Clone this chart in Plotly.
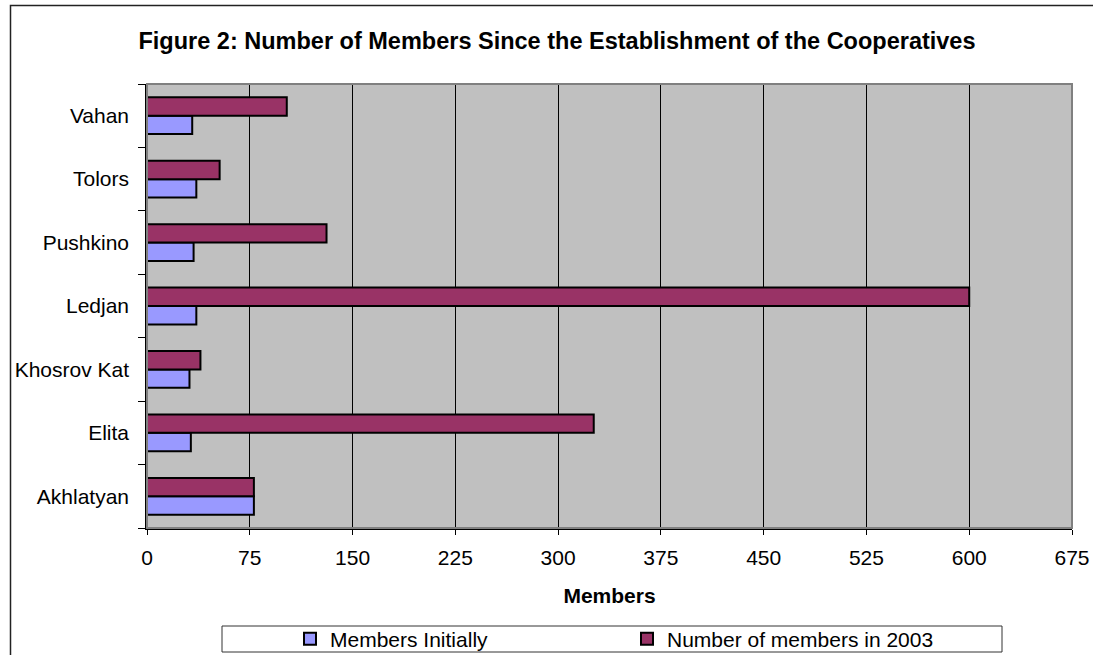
import plotly.graph_objects as go

# Cooperatives, listed bottom to top as they appear on the axis
cooperatives = ["Akhlatyan", "Elita", "Khosrov Kat", "Ledjan", "Pushkino", "Tolors", "Vahan"]
members_initially = [78, 32, 31, 36, 34, 36, 33]
members_2003 = [78, 326, 39, 600, 131, 53, 102]
x_ticks = [0, 75, 150, 225, 300, 375, 450, 525, 600, 675]

FONT = "Liberation Sans, Arial, sans-serif"

# Plot area in pixels (figure is 1093 x 655)
W, H = 1093, 655
L, R, T, B = 147, 1072, 84, 528


def px_x(p):
    return (p - L) / (R - L)


def px_y(p):
    return (B - p) / (B - T)


fig = go.Figure()
fig.add_trace(go.Bar(
    y=cooperatives, x=members_initially, orientation="h",
    name="Members Initially",
    marker=dict(color="#9999FF", line=dict(color="black", width=2)),
))
fig.add_trace(go.Bar(
    y=cooperatives, x=members_2003, orientation="h",
    name="Number of members in 2003",
    marker=dict(color="#993366", line=dict(color="black", width=2)),
))

shapes = [
    # plot area frame
    dict(type="rect", xref="paper", yref="paper", x0=0, x1=1, y0=0, y1=1,
         line=dict(color="#808080", width=2), layer="above"),
    # legend box
    dict(type="rect", xref="paper", yref="paper",
         x0=px_x(222), x1=px_x(1002), y0=px_y(652), y1=px_y(626),
         line=dict(color="#333333", width=1), fillcolor="white", layer="below"),
    # chart border
    dict(type="rect", xref="paper", yref="paper",
         x0=px_x(10.5), x1=px_x(W + 20), y0=px_y(H + 20), y1=px_y(5.5),
         line=dict(color="#222222", width=1.5), layer="below"),
]

fig.update_layout(
    width=W, height=H,
    margin=dict(l=L, r=W - R, t=T, b=H - B, autoexpand=False),
    paper_bgcolor="white",
    plot_bgcolor="#C0C0C0",
    barmode="group",
    bargap=0.42,
    bargroupgap=0,
    font=dict(family=FONT, size=21, color="black"),
    title=dict(
        text="<b>Figure 2: Number of Members Since the Establishment of the Cooperatives</b>",
        font=dict(family=FONT, size=23.5, color="black"),
        xref="paper", x=px_x(557), xanchor="center",
        yref="container", y=1 - 41 / H, yanchor="middle",
    ),
    xaxis=dict(
        range=[0, 675], tickvals=x_ticks, ticktext=[str(v) for v in x_ticks],
        showgrid=True, gridcolor="black", gridwidth=1,
        zeroline=False, showline=True, linecolor="black", linewidth=1.5,
        ticks="outside", ticklen=5, tickcolor="black", tickwidth=1,
        tickfont=dict(family=FONT, size=21), ticklabelstandoff=5,
        title=dict(text="<b>Members</b>", font=dict(family=FONT, size=21), standoff=20),
        automargin=False,
    ),
    yaxis=dict(
        categoryorder="array", categoryarray=cooperatives,
        showgrid=False, zeroline=False, showline=True, linecolor="black", linewidth=1.5,
        ticks="outside", ticklen=7, tickcolor="black", tickwidth=1, tickson="boundaries",
        tickfont=dict(family=FONT, size=21), ticklabelstandoff=12,
        automargin=False,
    ),
    showlegend=True,
    legend=dict(
        orientation="h", traceorder="normal",
        x=px_x(290), xanchor="left", y=px_y(639), yanchor="middle",
        bgcolor="rgba(0,0,0,0)", borderwidth=0,
        font=dict(family=FONT, size=21),
        entrywidthmode="pixels", entrywidth=292,
    ),
    shapes=shapes,
)

fig.write_html("out.html")
